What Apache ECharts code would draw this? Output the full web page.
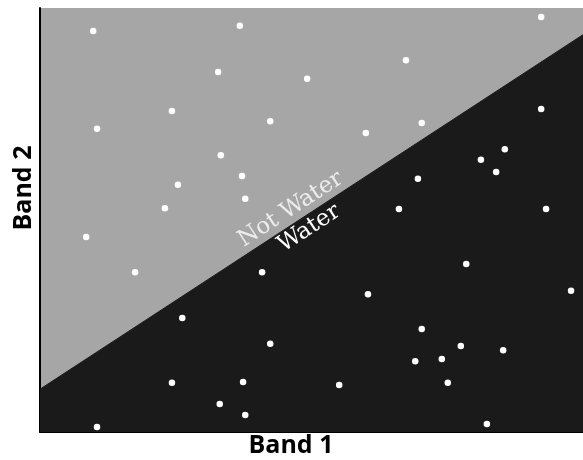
<!DOCTYPE html>
<html>
<head>
<meta charset="utf-8">
<script src="https://cdn.jsdelivr.net/npm/echarts@6/dist/echarts.min.js"></script>
<style>html,body{margin:0;padding:0;background:#fff;}#c{width:583px;height:460px;}</style>
</head>
<body>
<div id="c"></div>
<script>
// Band 1 / Band 2 values (arbitrary 0-100 units)
const band1 = [9.8,36.8,92.3,32.8,49.2,67.4,10.5,24.3,42.4,92.3,70.3,60.0,33.3,25.4,37.2,37.8,23.0,8.5,17.5,81.2,85.6,84.0,69.6,66.1,93.2,40.9,78.5,60.4,97.8,26.2,70.3,42.4,77.5,85.3,69.1,74.0,24.3,37.4,55.1,75.1,33.1,37.8,10.5,82.3];
const band2 = [94.6,95.8,97.9,84.9,83.3,87.7,71.5,75.7,73.3,76.2,72.9,70.5,65.3,58.3,60.4,55.0,52.8,46.0,37.7,64.2,66.7,61.3,59.7,52.6,52.6,37.7,39.6,32.5,33.3,26.9,24.3,20.8,20.3,19.3,16.7,17.2,11.6,11.8,11.1,11.6,6.6,4.0,1.2,1.9];
// decision boundary (Band 1 -> Band 2)
const boundaryX = [0, 100];
const boundaryY = [10.1, 93.7];
const axisNames = ["Band 1", "Band 2"];
const classNames = ["Not Water", "Water"];

const chart = echarts.init(document.getElementById('c'));
const points = band1.map((v, i) => [v, band2[i]]);
const boundary = boundaryX.map((v, i) => [v, boundaryY[i]]);

chart.setOption({
  animation: false,
  grid: { left: 40, right: 0, top: 8, bottom: 28, show: true, backgroundColor: '#a6a6a6', borderWidth: 0 },
  xAxis: { type: 'value', min: 0, max: 100, axisLine: { show: true, onZero: false, lineStyle: { color: '#000', width: 2 } },
    axisTick: { show: false }, axisLabel: { show: false }, splitLine: { show: false } },
  yAxis: { type: 'value', min: 0, max: 100, axisLine: { show: true, onZero: false, lineStyle: { color: '#000', width: 2 } },
    axisTick: { show: false }, axisLabel: { show: false }, splitLine: { show: false } },
  series: [
    { type: 'line', data: boundary, symbol: 'none', z: 1,
      lineStyle: { color: '#1a1a1a', width: 1 }, areaStyle: { color: '#1a1a1a', opacity: 1, origin: 'start' } },
    { type: 'scatter', data: points, symbol: 'circle', symbolSize: 6.5, z: 5,
      itemStyle: { color: '#ffffff', opacity: 1 } }
  ]
});

function place() {
  const p0 = chart.convertToPixel({ gridIndex: 0 }, boundary[0]);
  const p1 = chart.convertToPixel({ gridIndex: 0 }, boundary[1]);
  const ang = Math.atan2(p0[1] - p1[1], p1[0] - p0[0]);
  const mid = [(p0[0] + p1[0]) / 2, (p0[1] + p1[1]) / 2];
  const ux = Math.cos(ang), uy = -Math.sin(ang);       // along line
  const nx = -Math.sin(ang), ny = -Math.cos(ang);      // perpendicular (up-left)
  const a1 = -16, o1 = 2, a2 = -11, o2 = -1;
  chart.setOption({
    graphic: [
      { type: 'text', x: mid[0] + ux * a1 + nx * o1, y: mid[1] + uy * a1 + ny * o1, rotation: ang, z: 10,
        style: { text: classNames[0], fill: '#ececec', font: '23px "DejaVu Serif"', textAlign: 'center', textVerticalAlign: 'bottom' } },
      { type: 'text', x: mid[0] + ux * a2 + nx * o2, y: mid[1] + uy * a2 + ny * o2, rotation: ang, z: 10,
        style: { text: classNames[1], fill: '#ffffff', font: '23px "DejaVu Serif"', textAlign: 'center', textVerticalAlign: 'top' } },
      { type: 'text', x: 291, y: 446, z: 10,
        style: { text: axisNames[0], fill: '#000', font: 'bold 25px "Open Sans"', textAlign: 'center', textVerticalAlign: 'middle' } },
      { type: 'text', x: 24, y: 188, rotation: Math.PI / 2, z: 10,
        style: { text: axisNames[1], fill: '#000', font: 'bold 25px "Open Sans"', textAlign: 'center', textVerticalAlign: 'middle' } }
    ]
  });
}
place();
</script>
</body>
</html>
